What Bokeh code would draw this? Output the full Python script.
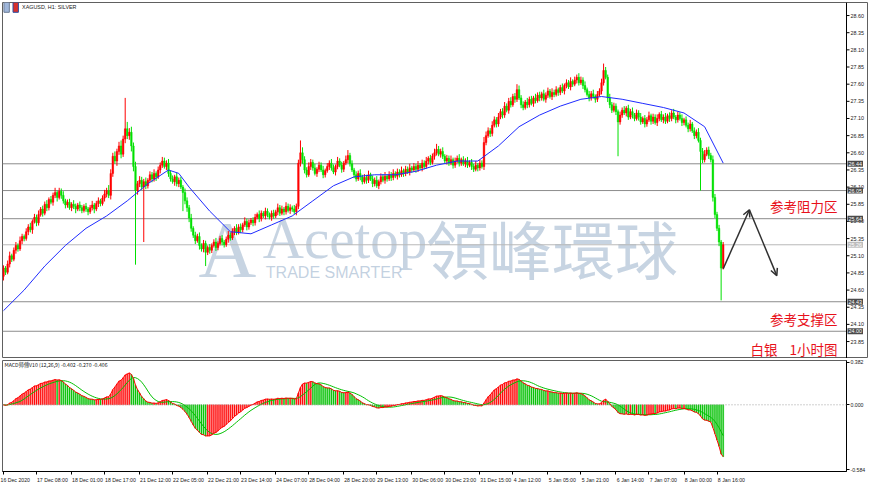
import numpy as np
from bokeh.plotting import figure
from bokeh.layouts import column
from bokeh.models import (Range1d, FixedTicker, Label, Span, Arrow, OpenHead,
                          ColumnDataSource, PrintfTickFormatter)
from bokeh.core.properties import value
from bokeh.embed import file_html
from bokeh.resources import INLINE

# ---------------- data ----------------
first_open = 24.80
close = [
    24.92, 24.86, 24.98, 25.10, 25.05, 25.18, 25.25, 25.20, 25.32, 25.38,
    25.35, 25.45, 25.52, 25.48, 25.60, 25.66, 25.58, 25.70, 25.78, 25.72,
    25.85, 25.80, 25.92, 25.88, 25.98, 26.02, 25.95, 26.04, 25.98, 25.90,
    25.84, 25.88, 25.80, 25.85, 25.82, 25.78, 25.84, 25.80, 25.76, 25.82,
    25.78, 25.74, 25.80, 25.84, 25.78, 25.86, 25.90, 25.86, 25.94, 26.00,
    26.05, 25.98, 26.30, 26.55, 26.48, 26.62, 26.70, 26.58, 26.80, 26.95,
    26.85, 26.90, 26.70, 26.40, 26.05, 26.15, 26.20, 26.10, 26.18, 26.12,
    26.20, 26.28, 26.22, 26.30, 26.25, 26.35, 26.42, 26.48, 26.40, 26.45,
    26.30, 26.22, 26.18, 26.25, 26.15, 26.20, 26.10, 26.02, 25.90, 25.80,
    25.65, 25.50, 25.40, 25.32, 25.38, 25.25, 25.20, 25.28, 25.15, 25.22,
    25.18, 25.25, 25.30, 25.22, 25.28, 25.35, 25.30, 25.26, 25.34, 25.40,
    25.36, 25.45, 25.50, 25.44, 25.52, 25.48, 25.55, 25.60, 25.52, 25.58,
    25.62, 25.58, 25.66, 25.70, 25.64, 25.72, 25.68, 25.75, 25.70, 25.66,
    25.72, 25.68, 25.74, 25.80, 25.72, 25.78, 25.74, 25.82, 25.76, 25.80,
    25.78, 25.74, 25.82, 26.45, 26.60, 26.50, 26.35, 26.28, 26.40, 26.46,
    26.38, 26.30, 26.36, 26.42, 26.35, 26.28, 26.34, 26.40, 26.45, 26.38,
    26.32, 26.40, 26.48, 26.42, 26.36, 26.45, 26.50, 26.56, 26.44, 26.35,
    26.28, 26.22, 26.30, 26.25, 26.18, 26.24, 26.20, 26.28, 26.22, 26.15,
    26.20, 26.12, 26.18, 26.25, 26.20, 26.26, 26.22, 26.28, 26.24, 26.30,
    26.26, 26.32, 26.28, 26.34, 26.30, 26.36, 26.32, 26.38, 26.35, 26.40,
    26.36, 26.42, 26.38, 26.45, 26.40, 26.48, 26.52, 26.46, 26.55, 26.60,
    26.65, 26.58, 26.62, 26.55, 26.48, 26.52, 26.45, 26.50, 26.42, 26.48,
    26.52, 26.45, 26.50, 26.44, 26.48, 26.42, 26.46, 26.40, 26.36, 26.42,
    26.38, 26.45, 26.40, 26.75, 26.85, 26.92, 26.88, 27.00, 27.08, 27.02,
    27.12, 27.20, 27.15, 27.28, 27.22, 27.35, 27.30, 27.42, 27.38, 27.52,
    27.40, 27.30, 27.26, 27.34, 27.30, 27.38, 27.32, 27.40, 27.36, 27.44,
    27.40, 27.46, 27.38, 27.44, 27.50, 27.42, 27.48, 27.45, 27.52, 27.48,
    27.55, 27.50, 27.58, 27.62, 27.56, 27.64, 27.60, 27.66, 27.70, 27.62,
    27.66, 27.58, 27.52, 27.45, 27.40, 27.46, 27.42, 27.38, 27.45, 27.50,
    27.62, 27.80, 27.70, 27.40, 27.30, 27.22, 27.28, 27.20, 27.05, 27.15,
    27.22, 27.18, 27.25, 27.12, 27.20, 27.15, 27.10, 27.18, 27.12, 27.05,
    27.10, 27.02, 27.08, 27.14, 27.06, 27.12, 27.04, 27.10, 27.16, 27.08,
    27.12, 27.06, 27.14, 27.10, 27.18, 27.12, 27.08, 27.15, 27.10, 27.04,
    27.08, 27.00, 26.95, 27.02, 26.92, 26.85, 26.90, 26.78, 26.62, 26.50,
    26.58, 26.64, 26.56, 26.50, 25.95, 25.70, 25.50, 25.30, 24.92, 25.26,
]
wick_up_cents = [
    4, 3, 5, 6, 3, 4, 5, 3, 6, 4,
    3, 5, 4, 6, 3, 5, 4, 6, 3, 5,
    4, 6, 3, 5, 4, 7, 3, 5, 4, 6,
    3, 4, 5, 3, 6, 4, 3, 5, 4, 3,
    5, 3, 4, 6, 3, 4, 5, 3, 4, 6,
    4, 8, 6, 5, 7, 4, 6, 8, 5, 45,
    10, 6, 8, 5, 7, 4, 6, 5, 4, 6,
    3, 5, 4, 6, 3, 5, 4, 6, 5, 4,
    6, 4, 5, 3, 6, 4, 5, 3, 6, 5,
    4, 6, 3, 5, 4, 6, 3, 5, 4, 3,
    5, 3, 4, 6, 3, 4, 5, 3, 4, 6,
    4, 5, 3, 6, 4, 5, 3, 6, 4, 5,
    3, 4, 5, 3, 6, 4, 3, 5, 4, 3,
    4, 5, 3, 6, 4, 5, 3, 6, 4, 5,
    3, 6, 4, 5, 18, 8, 5, 4, 6, 5,
    4, 6, 3, 5, 4, 6, 3, 5, 4, 6,
    5, 3, 6, 4, 5, 3, 6, 8, 4, 5,
    3, 5, 4, 6, 3, 5, 4, 6, 3, 5,
    4, 6, 3, 5, 4, 6, 3, 5, 4, 6,
    3, 5, 4, 6, 3, 5, 4, 6, 3, 5,
    4, 6, 3, 5, 4, 6, 3, 5, 4, 6,
    8, 5, 4, 6, 3, 5, 4, 6, 3, 5,
    4, 6, 3, 5, 4, 6, 3, 5, 4, 6,
    3, 5, 4, 8, 6, 5, 4, 6, 5, 4,
    6, 4, 5, 6, 4, 5, 6, 4, 5, 8,
    6, 4, 5, 3, 6, 4, 5, 3, 6, 4,
    5, 3, 6, 4, 5, 3, 6, 4, 5, 3,
    4, 6, 3, 5, 4, 6, 3, 5, 4, 6,
    5, 4, 6, 3, 5, 4, 6, 3, 5, 4,
    6, 10, 5, 4, 6, 4, 5, 4, 3, 5,
    4, 6, 3, 5, 4, 6, 3, 5, 4, 6,
    3, 5, 4, 6, 3, 5, 4, 6, 3, 5,
    4, 6, 3, 5, 4, 6, 3, 5, 4, 6,
    3, 5, 4, 6, 3, 5, 4, 6, 4, 5,
    6, 4, 5, 4, 6, 5, 4, 5, 3, 4,
]
wick_dn_cents = [
    6, 4, 3, 5, 4, 3, 5, 4, 3, 5,
    4, 3, 5, 4, 6, 3, 5, 4, 3, 5,
    3, 5, 4, 3, 5, 4, 6, 3, 5, 4,
    5, 4, 3, 5, 4, 6, 3, 5, 4, 3,
    4, 5, 3, 4, 6, 3, 5, 4, 3, 5,
    5, 4, 6, 5, 4, 7, 5, 6, 4, 6,
    5, 6, 8, 7, 108, 6, 5, 4, 80, 5,
    4, 3, 5, 4, 6, 3, 5, 4, 3, 5,
    5, 4, 3, 6, 4, 5, 3, 27, 5, 6,
    6, 5, 4, 5, 3, 6, 4, 5, 20, 4,
    5, 4, 3, 5, 4, 3, 5, 4, 3, 5,
    4, 3, 5, 4, 3, 5, 4, 3, 5, 4,
    3, 5, 4, 3, 5, 4, 3, 5, 4, 3,
    5, 4, 3, 5, 4, 3, 5, 4, 3, 5,
    4, 3, 5, 4, 5, 6, 5, 4, 3, 5,
    4, 3, 5, 4, 3, 5, 4, 3, 5, 4,
    3, 5, 4, 3, 5, 4, 3, 5, 4, 3,
    5, 4, 3, 5, 4, 3, 5, 4, 3, 5,
    4, 3, 5, 4, 3, 5, 4, 3, 5, 4,
    3, 5, 4, 3, 5, 4, 3, 5, 4, 3,
    5, 4, 3, 5, 4, 3, 5, 4, 3, 5,
    4, 3, 5, 4, 3, 5, 4, 3, 5, 4,
    3, 5, 4, 3, 5, 4, 3, 5, 4, 3,
    5, 4, 3, 5, 4, 3, 5, 4, 3, 5,
    4, 3, 5, 4, 3, 5, 4, 3, 5, 4,
    3, 5, 4, 3, 5, 4, 3, 5, 4, 3,
    5, 4, 3, 5, 4, 3, 5, 4, 3, 5,
    4, 3, 5, 4, 3, 5, 4, 3, 5, 4,
    3, 5, 4, 3, 5, 4, 3, 5, 4, 3,
    5, 4, 3, 6, 5, 4, 3, 5, 50, 4,
    4, 3, 5, 4, 3, 5, 4, 3, 5, 4,
    3, 5, 4, 3, 5, 4, 3, 5, 4, 3,
    5, 4, 3, 5, 4, 3, 5, 4, 3, 5,
    4, 3, 5, 4, 3, 5, 4, 3, 57, 5,
    4, 3, 5, 4, 6, 5, 4, 6, 47, 2,
]

# blue moving average
ma_bars = [0, 10, 20, 30, 40, 50, 60, 70, 80, 85, 90, 100, 110, 120, 130, 140, 150, 160,
           170, 180, 190, 200, 210, 220, 230, 240, 250, 260, 270, 280, 290, 300, 310, 320,
           330, 340, 349]
ma_vals = [24.30, 24.60, 24.95, 25.25, 25.50, 25.68, 25.90, 26.15, 26.35, 26.30, 26.10,
           25.75, 25.45, 25.42, 25.55, 25.68, 25.90, 26.12, 26.25, 26.28, 26.28, 26.33,
           26.42, 26.48, 26.48, 26.70, 26.98, 27.15, 27.28, 27.38, 27.42, 27.38, 27.32,
           27.26, 27.18, 26.98, 26.45]

level_prices = [26.44, 26.05, 25.64, 25.26, 24.43, 24.00]
level_texts = ["26.44", "26.05", "25.64", "25.26", "24.43", "24.00"]
level_is_bid = [False, False, False, True, False, False]

price_ticks = [23.85, 24.10, 24.35, 24.60, 24.85, 25.10, 25.35, 25.60, 25.85, 26.10,
               26.35, 26.60, 26.85, 27.10, 27.35, 27.60, 27.85, 28.10, 28.35, 28.60]
price_tick_labels = ["23.85", "24.10", "24.35", "24.60", "24.85", "25.10", "25.35",
                     "25.60", "25.85", "26.10", "26.35", "26.60", "26.85", "27.10",
                     "27.35", "27.60", "27.85", "28.10", "28.35", "28.60"]

time_tick_bars = [0, 16, 33, 49, 66, 82, 99, 115, 132, 148, 165, 181, 198, 214, 231,
                  247, 264, 280, 297, 313, 330, 346]
time_tick_labels = ["16 Dec 2020", "17 Dec 08:00", "18 Dec 01:00", "18 Dec 17:00",
                    "21 Dec 12:00", "22 Dec 05:00", "22 Dec 21:00", "23 Dec 14:00",
                    "24 Dec 07:00", "28 Dec 04:00", "28 Dec 20:00", "29 Dec 13:00",
                    "30 Dec 06:00", "30 Dec 23:00", "31 Dec 15:00", "4 Jan 12:00",
                    "5 Jan 05:00", "5 Jan 21:00", "6 Jan 14:00", "7 Jan 07:00",
                    "8 Jan 00:00", "8 Jan 16:00"]

macd_ticks = [0.382, 0.0, -0.584]

# drawn objects (arrow path)
arrow_bars = [349, 361.7, 375]
arrow_prices = [24.91, 25.77, 24.81]

# ---------------- derived ----------------
n = len(close)
idx = np.arange(n)
c = np.array(close)
o = np.concatenate([[first_open], c[:-1]])
h = np.maximum(o, c) + np.array(wick_up_cents) / 100.0
l = np.minimum(o, c) - np.array(wick_dn_cents) / 100.0
up = c >= o
ccol = np.where(up, "#ff0000", "#00e000")

def ema(x, span):
    a = 2.0 / (span + 1)
    out = np.empty_like(x)
    out[0] = x[0]
    for i in range(1, len(x)):
        out[i] = a * x[i] + (1 - a) * out[i - 1]
    return out

macd = ema(c, 12) - ema(c, 26)
sig = np.array([macd[max(0, i - 8):i + 1].mean() for i in range(n)])
rising = np.concatenate([[True], macd[1:] >= macd[:-1]])
hcol = np.where(rising, "#ff0000", "#00c000")

FONT = "Liberation Sans"
CJK = "Noto Sans CJK SC"
AX = "#202020"

PLOT_W = 844            # chart area width in px (both panels)
SCALE_W = 22            # price-scale strip
X_END = 408.8           # right edge of the chart area, in bar slots
px_per_bar = PLOT_W / (X_END + 0.5)
x_main = Range1d(-0.5, -0.5 + (PLOT_W + SCALE_W) / px_per_bar)
x_macd = Range1d(-0.5, X_END)
Y0, Y1 = 23.603, 28.79
tick_len = 3 / px_per_bar

# ---------------- main price panel ----------------
p = figure(frame_width=PLOT_W + SCALE_W, frame_height=356, x_range=x_main,
           y_range=Range1d(Y0, Y1), output_backend="svg",
           toolbar_location=None, x_axis_location=None, y_axis_location=None,
           min_border=0, min_border_left=2, min_border_top=2, min_border_right=0,
           min_border_bottom=0, outline_line_color="#606060",
           background_fill_color="white", border_fill_color="white")
p.grid.visible = False

# horizontal reference levels (chart area only)
lv_col = ["#b8b8b8" if b else "#8c8c8c" for b in level_is_bid]
p.segment(x0=[-0.5] * len(level_prices), x1=[X_END] * len(level_prices),
          y0=level_prices, y1=level_prices, line_color=lv_col, line_width=1)

# watermark (behind the candles)
wm = "#a9bdd3"
p.add_layout(Label(x=108.5, y=25.184, text="A", text_font="Liberation Serif",
                   text_font_size="80px", text_color=wm, text_alpha=0.65,
                   text_align="center", text_baseline="middle", level="underlay"))
p.add_layout(Label(x=125.7, y=25.35, text="Acetop", text_font="Liberation Serif",
                   text_font_size="57px", text_color=wm, text_alpha=0.65,
                   text_baseline="middle", level="underlay"))
p.add_layout(Label(x=127.2, y=24.856, text="TRADE SMARTER", text_font="Liberation Sans",
                   text_font_size="16px", text_color=wm, text_alpha=0.7,
                   text_baseline="middle", level="underlay"))
p.add_layout(Label(x=204.9, y=25.235, text="領峰環球", text_font="Noto Sans CJK TC",
                   text_font_size="63px", text_color=wm, text_alpha=0.65,
                   text_baseline="middle", level="underlay"))

# candles
src = ColumnDataSource(dict(x=idx, o=o, c=c, h=h, l=l, col=ccol,
                            top=np.maximum(o, c), bot=np.minimum(o, c)))
p.segment(x0="x", y0="l", x1="x", y1="h", color="col", line_width=1, source=src)
p.vbar(x="x", top="top", bottom="bot", width=0.75, fill_color="col",
       line_color="col", line_width=0.5, source=src)

# moving average
p.line(ma_bars, ma_vals, line_color="#1f2bff", line_width=1)

# price scale (right side)
p.add_layout(Span(location=X_END, dimension="height", line_color="black", line_width=1))
p.segment(x0=[X_END] * len(price_ticks), x1=[X_END + tick_len] * len(price_ticks),
          y0=price_ticks, y1=price_ticks, line_color="black", line_width=1)
p.text(x=[X_END + tick_len] * len(price_ticks), y=price_ticks, x_offset=1,
       text=price_tick_labels, text_font=value(FONT), text_font_size="5.4px",
       text_color=AX, text_baseline="middle", text_align="left")

# level boxes on the price scale
for lv, t, bid in zip(level_prices, level_texts, level_is_bid):
    p.add_layout(Label(x=X_END, y=lv, x_offset=1, text=t, text_font=FONT,
                       text_font_size="5.4px", text_color="white",
                       text_baseline="middle", text_align="left",
                       background_fill_color="#bdbdbd" if bid else "#4a4a4a",
                       padding=1))

# title with the two small window icons
p.add_layout(Label(x=0.2, y=28.72, text="\u00a0", text_font_size="5px",
                   background_fill_color="#9fb6da", border_line_color="#6c7c96",
                   padding=2, text_baseline="middle"))
p.add_layout(Label(x=4.6, y=28.72, text="\u00a0", text_font_size="5px",
                   background_fill_color="#d8302c", border_line_color="#2a4ea0",
                   padding=2, text_baseline="middle"))
p.add_layout(Label(x=9, y=28.72, text="XAGUSD, H1: SILVER", text_font=FONT,
                   text_font_size="5.4px", text_color=AX, text_baseline="middle"))

# notes
red = "#e8101a"
for yv, t in [(25.832, "参考阻力区"), (24.185, "参考支撑区"),
              (23.748, "白银\u00a0\u00a0\u00a0 1小时图")]:
    p.add_layout(Label(x=X_END, y=yv, x_offset=-9, text=t, text_font=CJK,
                       text_font_size="13.5px", text_color=red, text_align="right",
                       text_baseline="middle"))

# drawn arrow path
for k in range(2):
    p.add_layout(Arrow(x_start=arrow_bars[k], y_start=arrow_prices[k],
                       x_end=arrow_bars[k + 1], y_end=arrow_prices[k + 1],
                       line_color="#303030", line_width=1.5,
                       end=OpenHead(size=7, line_color="#303030", line_width=1.5)))

# ---------------- MACD panel ----------------
m = figure(frame_width=PLOT_W, frame_height=111, x_range=x_macd,
           y_range=Range1d(-0.602, 0.400), output_backend="svg",
           toolbar_location=None, y_axis_location="right",
           min_border=0, min_border_left=2, min_border_top=2, min_border_right=SCALE_W,
           min_border_bottom=17, outline_line_color="#606060",
           background_fill_color="white", border_fill_color="white")
m.grid.visible = False

m.add_layout(Span(location=0, dimension="width", line_color="#a0a0a0",
                  line_dash="1 2", line_width=1))
m.vbar(x=idx, top=macd, bottom=0, width=0.45, fill_color=hcol, line_color=hcol,
       line_width=0.5)
m.line(idx, sig, line_color="#00c000", line_width=1)
m.line(idx, macd, line_color="#ff0000", line_width=1)


def left_pad(label):
    # invisible padding as wide as the label, so the centred axis label
    # starts just right of its tick, as in the terminal
    pad = []
    for ch in label:
        if ch == " ":
            pad.append("\u00a0")
        elif ch in ":.":
            pad.append("\u2008")
        else:
            pad.append("\u2007")
    return "".join(pad) + "\u00a0" + label


my = m.yaxis[0]
my.ticker = FixedTicker(ticks=macd_ticks)
my.formatter = PrintfTickFormatter(format="%.3f")
mx = m.xaxis[0]
mx.ticker = FixedTicker(ticks=time_tick_bars)
# the first label sits against the left edge (no padding needed there)
mx.major_label_overrides = {b: (t if k == 0 else left_pad(t))
                            for k, (b, t) in enumerate(zip(time_tick_bars, time_tick_labels))}
for ax in [my, mx]:
    ax.axis_line_color = "black"
    ax.major_tick_line_color = "black"
    ax.minor_tick_line_color = None
    ax.major_tick_out = 3
    ax.major_tick_in = 0
    ax.major_label_text_font_size = "5.2px"
    ax.major_label_text_font = FONT
    ax.major_label_text_color = AX
    ax.major_label_standoff = 2
my.major_label_standoff = 1

m.add_layout(Label(x=-0.5, y=0.400, x_offset=2, y_offset=-4,
                   text="MACD师傅V10 (12,26,9) -0.402 -0.270 -0.406", text_font=CJK,
                   text_font_size="5.2px", text_color=AX, text_baseline="middle"))

layout = column(p, m, spacing=0)
open("out.html", "w").write(file_html(layout, INLINE))
